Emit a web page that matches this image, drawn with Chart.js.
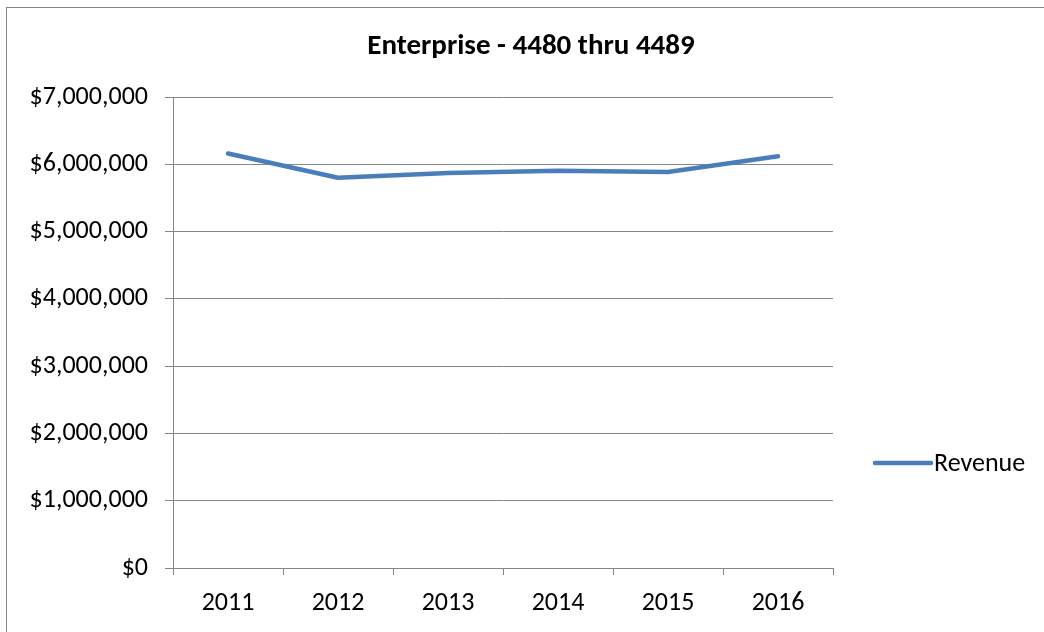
<!DOCTYPE html>
<html>
<head>
<meta charset="utf-8">
<script src="https://cdn.jsdelivr.net/npm/chart.js@4/dist/chart.umd.min.js"></script>
<style>
html,body{margin:0;padding:0;background:#fff;}
#wrap{width:1044px;height:632px;position:relative;}
</style>
</head>
<body>
<div id="wrap"><canvas id="c" width="1044" height="632"></canvas></div>
<script>
const categories = ['2011','2012','2013','2014','2015','2016'];
const revenue = [6160000, 5800000, 5870000, 5905000, 5885000, 6120000];
const seriesName = 'Revenue';
const chartTitle = 'Enterprise - 4480 thru 4489';
const yMin = 0, yMax = 7000000, yStep = 1000000;

const FONT = 'Carlito, Lato, "Liberation Sans", sans-serif';
const GRID = '#868686';
const LINE = '#4A7EBB';

const decor = {
  id: 'decor',
  afterDraw(chart) {
    const ctx = chart.ctx;
    ctx.save();
    // outer border (left & top visible)
    ctx.strokeStyle = '#868686';
    ctx.lineWidth = 1;
    ctx.strokeRect(6.5, 7.5, 1100, 700);
    // title
    ctx.fillStyle = '#000';
    ctx.font = 'bold 29px ' + FONT;
    ctx.textAlign = 'center';
    ctx.textBaseline = 'middle';
    ctx.fillText(chartTitle, 531, 47);
    // legend
    const ds = chart.data.datasets[0];
    ctx.strokeStyle = ds.borderColor;
    ctx.lineWidth = 4.5;
    ctx.lineCap = 'round';
    ctx.beginPath();
    ctx.moveTo(875, 463);
    ctx.lineTo(931, 463);
    ctx.stroke();
    ctx.font = '26px ' + FONT;
    ctx.textAlign = 'left';
    ctx.fillText(ds.label, 934, 464);
    ctx.restore();
  }
};

new Chart(document.getElementById('c'), {
  type: 'line',
  data: {
    labels: categories,
    datasets: [{
      label: seriesName,
      data: revenue,
      borderColor: LINE,
      backgroundColor: LINE,
      borderWidth: 4.5,
      pointRadius: 0,
      tension: 0,
      borderCapStyle: 'round',
      borderJoinStyle: 'round'
    }]
  },
  options: {
    responsive: false,
    animation: false,
    devicePixelRatio: 1,
    layout: { padding: { left: 0, top: 97, right: 211, bottom: 0 } },
    plugins: { legend: { display: false }, title: { display: false }, tooltip: { enabled: false } },
    scales: {
      x: {
        offset: true,
        grid: { display: true, drawOnChartArea: false, drawTicks: true, tickLength: 7, color: GRID, offset: true },
        border: { display: true, color: GRID, width: 1 },
        ticks: { color: '#000', font: { family: FONT, size: 26 }, padding: 13, maxRotation: 0 },
        afterFit(s) { s.height = 64; }
      },
      y: {
        min: yMin, max: yMax,
        grid: { color: GRID, lineWidth: 1, drawTicks: true, tickLength: 8 },
        border: { display: true, color: GRID, width: 1 },
        ticks: {
          stepSize: yStep, color: '#000', font: { family: FONT, size: 26 }, padding: 17,
          callback: v => '$' + Number(v).toLocaleString('en-US')
        },
        afterFit(s) { s.width = 173; }
      }
    }
  },
  plugins: [decor]
});
</script>
</body>
</html>
